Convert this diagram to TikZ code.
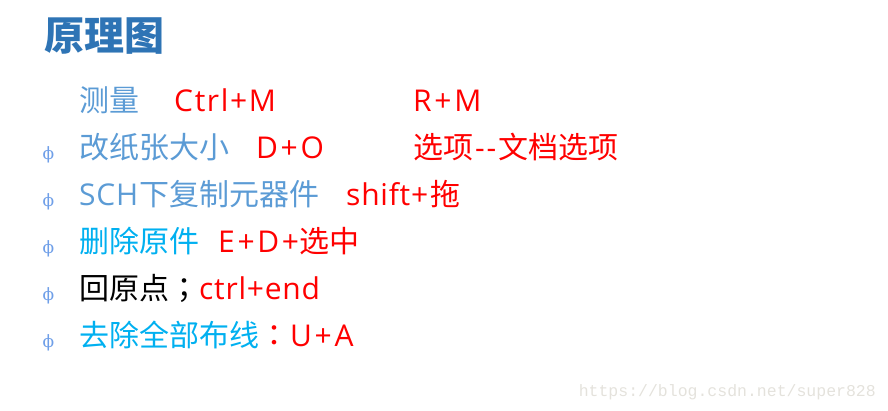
\documentclass[tikz,border=0pt]{standalone}
\usepackage{fontspec}
\setmainfont{Noto Sans CJK SC}
\newfontfamily\latinfont[LetterSpace=5.5]{Open Sans}
\newfontfamily\widefont[LetterSpace=9]{Open Sans}
\newfontfamily\lowerfont[LetterSpace=2.5]{Open Sans}
\newfontfamily\puncfont{Noto Sans CJK TC}
\newfontfamily\bulletfont{DejaVu Serif}
\newfontfamily\markfont{Liberation Mono}
\definecolor{titleblue}{HTML}{2E74B5}
\definecolor{itemblue}{HTML}{5B9BD5}
\definecolor{skyblue}{HTML}{00B0F0}
\definecolor{bulletblue}{HTML}{6F9FE8}
\definecolor{markgray}{HTML}{E4E2DC}
\newcommand{\lat}[1]{{\latinfont #1}}
\newcommand{\wid}[1]{{\widefont #1}}
\newcommand{\low}[1]{{\lowerfont #1}}
\newcommand{\pun}[1]{{\puncfont #1}}
\tikzset{
  txt/.style={anchor=base west,inner sep=0pt,font=\fontsize{30}{30}\selectfont},
  bul/.style={anchor=base,inner sep=0pt,text=bulletblue,font=\fontsize{17}{17}\bulletfont},
}
\begin{document}
\begin{tikzpicture}[x=1pt,y=-1pt]
      \useasboundingbox (0,0) rectangle (888,410);
      \node[txt,text=titleblue,font=\fontsize{40}{40}\selectfont\bfseries] (title) at (44,50) {原理图};
      % left column
      \node[txt,text=itemblue] (m1) at (79,111) {测量};
      \node[txt,text=itemblue] (m2) at (79,158) {改纸张大小};
      \node[txt,text=itemblue] (m3) at (79,205) {\low{SCH}\kern1pt 下复制元器件};
      \node[txt,text=skyblue] (m4) at (79,252) {删除原件};
      \node[txt,text=black] (m5) at (79,299) {回原点\pun{；}};
      \node[txt,text=skyblue] (m6) at (79,346) {去除全部布线};
      % shortcuts
      \node[txt,text=red] (k1) at (174,111) {\lat{Ctrl+M}};
      \node[txt,text=red] (k2) at (256,158) {\wid{D+O}};
      \node[txt,text=red] (k3) at (346,205) {\low{shift+}\kern2pt 拖};
      \node[txt,text=red] (k4) at (218,252) {\wid{E+D+}选中};
      \node[txt,text=red] (k5) at (199,299) {\low{ctrl+end}};
      \node[txt,text=red] (k6) at (259,346) {\pun{：}\kern1pt\wid{U+A}};
      \node[txt,text=red] (r1) at (413,111) {\wid{R+M}};
      \node[txt,text=red] (r2) at (413,158) {选项\kern2pt\lat{{-}{-}}\kern2pt 文档选项};
      % bullets
      \foreach \name/\ypos in {b2/159,b3/206,b4/253,b5/300,b6/347}
        \node[bul] (\name) at (48.5,\ypos) {ϕ};
      \node[anchor=base east,inner sep=0pt,text=markgray,font=\fontsize{16.5}{16.5}\markfont] (mark) at (876,396) {https://blog.csdn.net/super828};
    \end{tikzpicture}
\end{document}
